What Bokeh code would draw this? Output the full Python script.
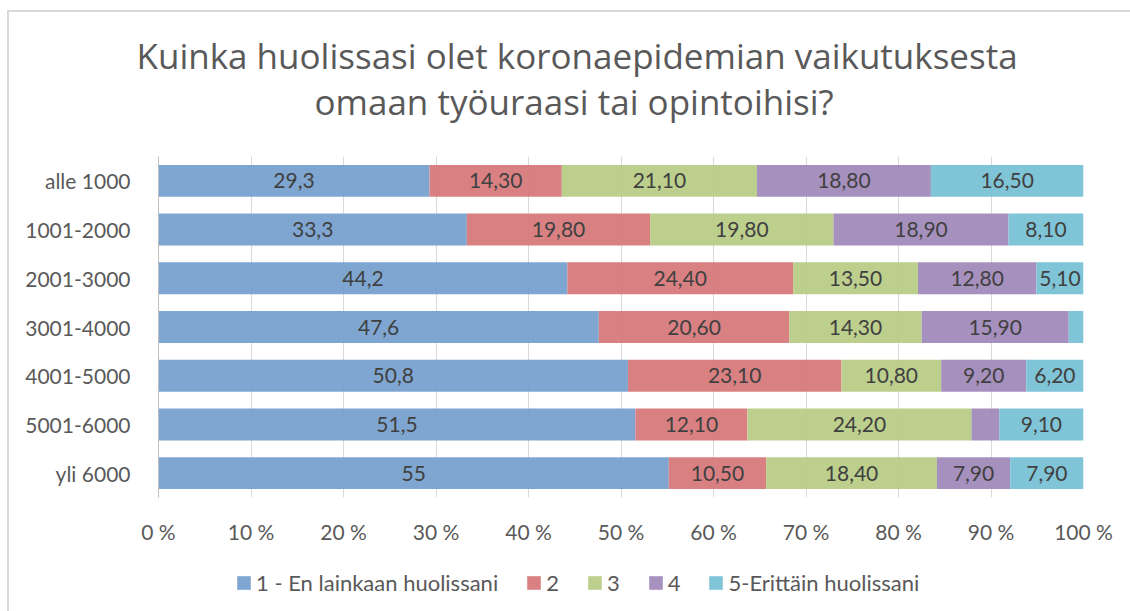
from bokeh.plotting import figure
from bokeh.layouts import column
from bokeh.models import (ColumnDataSource, FactorRange, Range1d, FixedTicker, Title,
                          Legend, LegendItem)
from bokeh.core.properties import value
from bokeh.embed import file_html
from bokeh.resources import INLINE

# ---------------- data ----------------
categories = ["alle 1000", "1001-2000", "2001-3000", "3001-4000",
              "4001-5000", "5001-6000", "yli 6000"]
series_names = ["1 - En lainkaan huolissani", "2", "3", "4", "5-Erittäin huolissani"]
s1 = [29.3, 33.3, 44.2, 47.6, 50.8, 51.5, 55.0]
s2 = [14.3, 19.8, 24.4, 20.6, 23.1, 12.1, 10.5]
s3 = [21.1, 19.8, 13.5, 14.3, 10.8, 24.2, 18.4]
s4 = [18.8, 18.9, 12.8, 15.9, 9.2, 3.0, 7.9]
s5 = [16.5, 8.1, 5.1, 1.6, 6.2, 9.1, 7.9]
# labels not shown in the original for these (category, series) cells
hidden_labels = [("3001-4000", 4), ("5001-6000", 3)]
x_ticks = [0, 10, 20, 30, 40, 50, 60, 70, 80, 90, 100]
x_tick_labels = ["0 %", "10 %", "20 %", "30 %", "40 %", "50 %", "60 %", "70 %",
                 "80 %", "90 %", "100 %"]
title_lines = ["Kuinka huolissasi olet koronaepidemian vaikutuksesta",
               "omaan työuraasi tai opintoihisi?"]
colors = ["#759fcc", "#d67779", "#b7cb84", "#9f88b9", "#76bfd4"]

series = [s1, s2, s3, s4, s5]

# ---------------- main figure ----------------
W = 1130
p = figure(width=W, height=555, output_backend="svg", toolbar_location=None,
           y_range=FactorRange(factors=categories[::-1], range_padding=0),
           x_range=Range1d(0, 100),
           min_border_left=158, min_border_right=47,
           min_border_top=156, min_border_bottom=58)
p.outline_line_color = None
p.background_fill_color = None
p.border_fill_color = None

# normalised stacking (100 % stacked)
totals = [sum(s[i] for s in series) for i in range(len(categories))]
lefts = [0.0] * len(categories)
lab_x, lab_y, lab_t = [], [], []
for k, s in enumerate(series):
    pct = [v / t * 100 for v, t in zip(s, totals)]
    rights = [l + q for l, q in zip(lefts, pct)]
    src = ColumnDataSource(dict(y=categories, left=lefts, right=rights))
    p.hbar(y="y", left="left", right="right", height=0.655, source=src,
           fill_color=colors[k], line_color=None, fill_alpha=0.93)
    for i, c in enumerate(categories):
        if (c, k) in hidden_labels:
            continue
        lab_x.append((lefts[i] + rights[i]) / 2)
        lab_y.append(c)
        v = s[i]
        lab_t.append((f"{v:g}" if k == 0 else f"{v:.2f}").replace(".", ","))
    lefts = rights

lsrc = ColumnDataSource(dict(x=lab_x, y=lab_y, t=lab_t))
p.text(x="x", y="y", text="t", source=lsrc, text_align="center",
       text_baseline="middle", text_font=value("Lato"), text_font_size="21px",
       text_color="#404040")

# axes
p.xaxis.ticker = FixedTicker(ticks=x_ticks)
p.xaxis.major_label_overrides = {t: l for t, l in zip(x_ticks, x_tick_labels)}
p.xaxis.axis_line_color = None
p.xaxis.major_tick_line_color = None
p.xaxis.minor_tick_line_color = None
p.xaxis.major_tick_out = 0
p.xaxis.major_label_standoff = 21
p.xaxis.major_label_text_font = "Lato"
p.xaxis.major_label_text_font_size = "21px"
p.xaxis.major_label_text_color = "#595959"

p.yaxis.axis_line_color = "#bfbfbf"
p.yaxis.major_tick_line_color = None
p.yaxis.minor_tick_line_color = None
p.yaxis.major_tick_out = 0
p.yaxis.major_label_standoff = 28
p.yaxis.major_label_text_font = "Lato"
p.yaxis.major_label_text_font_size = "21px"
p.yaxis.major_label_text_color = "#595959"

p.xgrid.grid_line_color = "#d9d9d9"
p.ygrid.grid_line_color = None

# title (two lines; the later one added sits further from the plot)
p.add_layout(Title(text=title_lines[1], align="left", offset=156, standoff=63,
                   text_font="Open Sans", text_font_size="35px",
                   text_font_style="normal", text_color="#595959"), "above")
p.add_layout(Title(text=title_lines[0], align="left", offset=-22, standoff=-69,
                   text_font="Open Sans", text_font_size="35px",
                   text_font_style="normal", text_color="#595959"), "above")

# ---------------- legend strip ----------------
q = figure(width=W, height=56, output_backend="svg", toolbar_location=None,
           x_range=Range1d(0, W), y_range=Range1d(0, 56),
           x_axis_location=None, y_axis_location=None,
           min_border=0, min_border_left=0, min_border_right=0,
           min_border_top=0, min_border_bottom=0)
q.outline_line_color = None
q.background_fill_color = None
q.border_fill_color = None
q.grid.grid_line_color = None
# zero-width key glyphs: they only give the legend its colour swatches
key_renderers = [q.hbar(y=[0], left=[0], right=[0], height=0, fill_color=c,
                        fill_alpha=0.93, line_color=None) for c in colors]
items = [LegendItem(label=n, renderers=[r]) for n, r in zip(series_names, key_renderers)]
legend = Legend(items=items, orientation="horizontal", location=(77, 15),
                padding=0, margin=0, spacing=27, label_standoff=4,
                glyph_width=17, glyph_height=17, label_height=20, label_width=0,
                border_line_color=None,
                background_fill_alpha=0, label_text_font="Lato",
                label_text_font_size="22px", label_text_color="#595959")
q.add_layout(legend)

layout = column(p, q, spacing=0)
layout.styles = {
    "background-color": "white",
    "background-image": "linear-gradient(#d9d9d9,#d9d9d9), linear-gradient(#d9d9d9,#d9d9d9)",
    "background-size": "2px 100%, 100% 2px",
    "background-position": "7px 10px, 7px 10px",
    "background-repeat": "no-repeat",
}

open("out.html", "w").write(file_html(layout, INLINE))
